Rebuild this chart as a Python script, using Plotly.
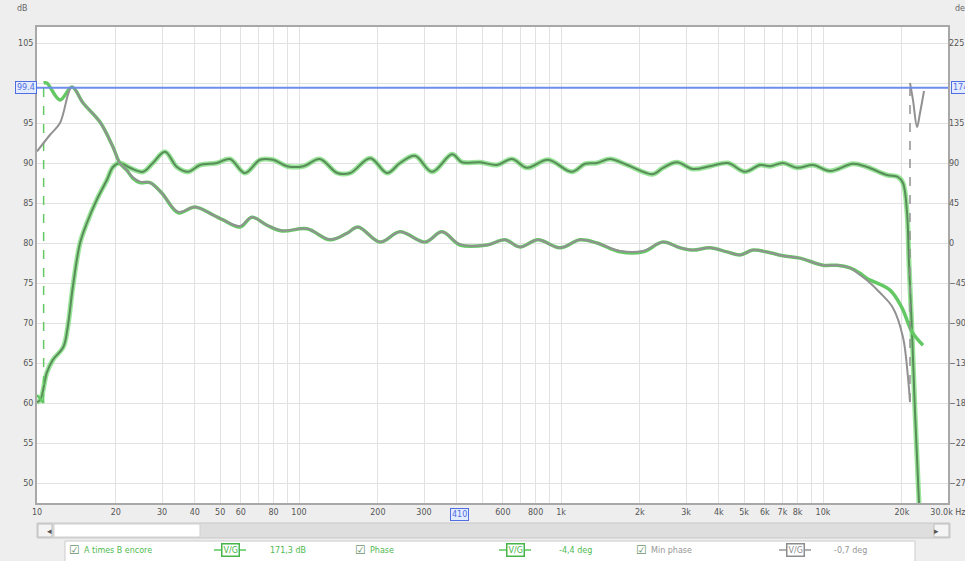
import numpy as np
import plotly.graph_objects as go

# --- Magnitude "A times B encore" (dB, left axis) ---
mag_freq = [10, 10.3, 10.9, 11.5, 12.6, 13.1, 13.7, 14.6, 15.5, 16.9, 18.5, 19.5, 20.7,
            22.6, 25.4, 27.7, 30.8, 34.2, 37.7, 41.9, 48.6, 54.5, 62.2, 71, 79.6, 90,
            104, 120, 140, 157, 187, 217, 243, 277, 322, 384, 419, 491, 570, 650, 742,
            892, 1100, 1235, 1370, 1540, 1790, 2240, 2450, 2770, 3190, 3700, 4340, 5040,
            5750, 6280, 7040, 7960, 9160, 10640, 13020, 14720, 17550, 19330, 20200,
            20930, 21290, 21860, 22440, 23250, 23660]
mag_db = [60.1, 60.4, 63.8, 65.4, 67.0, 69.5, 74.5, 80.0, 82.5, 85.4, 87.9, 89.5, 90.0,
          89.4, 88.9, 90.0, 91.4, 89.5, 88.9, 89.75, 90.0, 90.5, 88.75, 90.4, 90.4, 89.6,
          89.6, 90.5, 88.75, 88.75, 90.6, 88.75, 90.0, 90.9, 88.9, 91.1, 90.1, 90.1, 89.75,
          90.5, 89.4, 90.4, 88.9, 89.9, 90.0, 90.5, 89.75, 88.6, 89.4, 90.1, 89.25, 89.6,
          90.0, 88.9, 89.75, 89.6, 90.0, 89.4, 89.75, 89.0, 89.9, 89.5, 88.5, 88.25, 87.5,
          83.75, 77.5, 69.0, 59.0, 47.5, 40.0]

# --- Phase (deg, right axis) ---
phase_lo_freq = [10, 10.6]
phase_lo_deg = [-171, -180]
phase_freq = [10.6, 10.9, 12.24, 13.6, 15.0, 17.4, 19.5, 20.7, 22.0, 23.2, 24.7, 27.0,
              30.0, 34.6, 40.1, 47.0, 51.3, 59.5, 66.1, 75.5, 86.1, 107.3, 131.3, 152.5,
              168, 203.8, 242.9, 302.7, 351.5, 411.6, 522, 611, 697, 817, 991, 1182, 1372,
              1680, 2056, 2450, 2846, 3190, 3700, 4301, 4823, 5406, 6280, 7040, 8171,
              10000, 11310, 12680, 13840, 14720, 18020, 20020, 21860, 24080]
phase_deg = [180, 180, 161, 175.5, 157.5, 136, 108, 90, 82, 73, 68, 68,
             56, 34, 40.5, 31.5, 26, 18, 29, 20, 13.5, 16, 3.6, 11,
             18, 1, 12.6, 1, 12.6, -2.25, -2.25, 3.6, -4.5, 3.6, -5.4, 3.6, 0,
             -10, -10, 1, -5.4, -8, -5.4, -10, -13.5, -8, -11, -14.4, -17,
             -25, -25, -28, -34, -40, -53, -73, -100, -115]

# --- Min phase (deg, right axis) ---
minph_freq = [10, 11.2, 12.24, 13.6, 15.0, 17.4, 19.5, 20.7, 22.0, 23.2, 24.7, 27.0,
              30.0, 34.6, 40.1, 47.0, 51.3, 59.5, 66.1, 75.5, 86.1, 107.3, 131.3, 152.5,
              168, 203.8, 242.9, 302.7, 351.5, 411.6, 522, 611, 697, 817, 991, 1182, 1372,
              1680, 2056, 2450, 2846, 3190, 3700, 4301, 4823, 5406, 6280, 7040, 8171,
              10000, 11310, 12680, 13840, 14720, 16510, 18500, 20200, 21100, 21480]
minph_deg = [103, 121.5, 135, 175.5, 157.5, 136, 108, 90, 82, 74, 69, 68,
             56, 35, 40.5, 31.5, 26, 19, 29, 20, 14, 16, 4, 11,
             18, 1, 12.6, 1, 12.6, -1.5, -2.25, 3.6, -4.5, 3.6, -5.4, 3.6, 0,
             -9, -9, 1, -5.4, -8, -5.4, -10, -13.5, -8, -11, -14.4, -17,
             -25, -25, -28, -36, -42, -56, -73, -106, -151, -179]
minph_hi_freq = [21480, 22050, 22850, 23450, 24300]
minph_hi_deg = [180, 161, 130.5, 146, 171]

# cursor
cursor_freq = 410
cursor_db = 99.4

x_tickvals = [10, 20, 30, 40, 50, 60, 80, 100, 200, 300, 600, 800, 1000, 2000, 3000,
              4000, 5000, 6000, 7000, 8000, 10000, 20000, 29990]
x_ticktext = ["10", "20", "30", "40", "50", "60", "80", "100", "200", "300", "600", "800",
              "1k", "2k", "3k", "4k", "5k", "6k", "7k", "8k", "10k", "20k", "30.0k Hz"]
x_gridvals = [m * 10 ** k for k in range(1, 5) for m in range(1, 10) if m * 10 ** k <= 30000]
y_tickvals = [50, 55, 60, 65, 70, 75, 80, 85, 90, 95, 105]
y2_tickvals = [-270, -225, -180, -135, -90, -45, 0, 45, 90, 135, 225]

Y_RANGE = [47.5, 107]
Y2_RANGE = [(Y_RANGE[0] - 80) * 9, (Y_RANGE[1] - 80) * 9]

GREEN_HALO = "rgba(120,220,120,0.75)"
GREEN_CORE = "rgb(88,140,88)"
PHASE_GREEN = "rgb(100,200,100)"
GRAY = "rgb(145,145,145)"

fig = go.Figure()

# magnitude
fig.add_trace(go.Scatter(x=mag_freq, y=mag_db, mode="lines", line=dict(color=GREEN_HALO, width=5, shape="spline"), hoverinfo="skip"))
fig.add_trace(go.Scatter(x=mag_freq, y=mag_db, mode="lines", line=dict(color=GREEN_CORE, width=2, shape="spline"), name="A times B encore"))

# phase
fig.add_trace(go.Scatter(x=phase_lo_freq, y=phase_lo_deg, yaxis="y2", mode="lines", line=dict(color=PHASE_GREEN, width=2.5)))
fig.add_trace(go.Scatter(x=[phase_lo_freq[-1], phase_freq[0]], y=[phase_lo_deg[-1], phase_deg[0]], yaxis="y2",
                         mode="lines", line=dict(color=PHASE_GREEN, width=1.5, dash="dash")))
fig.add_trace(go.Scatter(x=phase_freq, y=phase_deg, yaxis="y2", mode="lines", line=dict(color=PHASE_GREEN, width=3.5, shape="spline"), name="Phase"))

# min phase
fig.add_trace(go.Scatter(x=minph_freq, y=minph_deg, yaxis="y2", mode="lines", line=dict(color=GRAY, width=2, shape="spline"), name="Min phase"))
fig.add_trace(go.Scatter(x=[minph_freq[-1], minph_hi_freq[0]], y=[minph_deg[-1], minph_hi_deg[0]], yaxis="y2",
                         mode="lines", line=dict(color=GRAY, width=1.5, dash="dash")))
fig.add_trace(go.Scatter(x=minph_hi_freq, y=minph_hi_deg, yaxis="y2", mode="lines", line=dict(color=GRAY, width=2, shape="spline")))

tick_font = dict(family="DejaVu Sans", size=8, color="#555555")
grid = "#e2e2e2"

fig.update_layout(
    width=965, height=561,
    margin=dict(l=37, r=17, t=27, b=58),
    paper_bgcolor="#eeeeee",
    plot_bgcolor="white",
    showlegend=False,
    xaxis=dict(type="log", range=[1, np.log10(30000)], tickvals=x_tickvals, ticktext=x_ticktext,
               showgrid=True, gridcolor=grid, gridwidth=1, ticks="", tickfont=tick_font,
               ticklabeloverflow="allow",
               minor=dict(tickvals=x_gridvals, showgrid=True, gridcolor=grid, ticks=""),
               showline=True, linecolor="#a8a8a8", linewidth=2, mirror=True,
               zeroline=False, automargin=False, fixedrange=True),
    yaxis=dict(range=Y_RANGE, tickvals=y_tickvals, showgrid=True, gridcolor=grid, ticks="",
               minor=dict(tickvals=[100], showgrid=True, gridcolor=grid, ticks=""),
               tickfont=tick_font, showline=True, linecolor="#a8a8a8", linewidth=2, mirror=True,
               zeroline=False, automargin=False),
    yaxis2=dict(range=Y2_RANGE, tickvals=y2_tickvals, overlaying="y", side="right", showgrid=False,
                ticks="", tickfont=tick_font, zeroline=False, automargin=False),
)

# pixel -> paper helpers for the window decorations
def px(x):
    return (x - 37) / 911

def py(y):
    return (503 - y) / 476

shapes = [
    # cursor lines
    dict(type="line", xref="paper", yref="y", x0=0, x1=1, y0=cursor_db, y1=cursor_db,
         line=dict(color="rgb(110,140,235)", width=2)),
    dict(type="line", xref="x", yref="paper", x0=np.log10(cursor_freq), x1=np.log10(cursor_freq), y0=0, y1=1,
         line=dict(color="rgb(110,140,235)", width=2)),
    # scrollbar
    dict(type="rect", xref="paper", yref="paper", x0=px(37), x1=px(950), y0=py(523), y1=py(538),
         fillcolor="#dedede", line=dict(color="#c8c8c8", width=1), layer="above"),
    dict(type="rect", xref="paper", yref="paper", x0=px(54), x1=px(200), y0=py(524), y1=py(537),
         fillcolor="white", line=dict(color="#cfcfcf", width=1), layer="above"),
    dict(type="rect", xref="paper", yref="paper", x0=px(38), x1=px(52), y0=py(524), y1=py(537),
         fillcolor="#f4f4f4", line=dict(color="#bdbdbd", width=1), layer="above"),
    dict(type="rect", xref="paper", yref="paper", x0=px(934), x1=px(949), y0=py(524), y1=py(537),
         fillcolor="#f4f4f4", line=dict(color="#bdbdbd", width=1), layer="above"),
    # legend box
    dict(type="rect", xref="paper", yref="paper", x0=px(65), x1=px(915), y0=py(541), y1=py(566),
         fillcolor="white", line=dict(color="#cccccc", width=1), layer="above"),
]

for cx, col in [(230, "rgb(90,200,90)"), (515, "rgb(90,200,90)"), (795, "rgb(150,150,150)")]:
    shapes.append(dict(type="line", xref="paper", yref="paper", x0=px(cx - 16), x1=px(cx + 16),
                       y0=py(550), y1=py(550), line=dict(color=col, width=1.5), layer="above"))
fig.update_layout(shapes=shapes)

blue = "rgb(80,110,225)"
ann = [
    dict(text="dB", x=px(15), y=py(9), xref="paper", yref="paper", showarrow=False,
         font=dict(family="DejaVu Sans", size=8, color="#666")),
    dict(text="deg", x=px(953), y=py(9), xref="paper", yref="paper", showarrow=False, xanchor="left",
         font=dict(family="DejaVu Sans", size=8, color="#666")),
    dict(text="99.4", x=0, y=cursor_db, xref="paper", yref="y", xanchor="right", showarrow=False,
         font=dict(family="DejaVu Sans", size=8, color=blue), bgcolor="#e3ebff", bordercolor=blue,
         borderwidth=1, borderpad=1),
    dict(text="174.6", x=1.003, y=cursor_db, xref="paper", yref="y", xanchor="left", showarrow=False,
         font=dict(family="DejaVu Sans", size=8, color=blue), bgcolor="#e3ebff", bordercolor=blue,
         borderwidth=1, borderpad=1),
    dict(text="410", x=np.log10(cursor_freq), y=py(514), xref="x", yref="paper", showarrow=False,
         font=dict(family="DejaVu Sans", size=8, color=blue), bgcolor="#e3ebff", bordercolor=blue,
         borderwidth=1, borderpad=1),
    dict(text="◂", x=px(45), y=py(530), xref="paper", yref="paper", showarrow=False,
         font=dict(size=9, color="#555")),
    dict(text="▸", x=px(941), y=py(530), xref="paper", yref="paper", showarrow=False,
         font=dict(size=9, color="#555")),
]

legend_items = [
    (74, "☑", "rgb(110,150,110)", "center"),
    (82, "A times B encore", "rgb(80,185,80)", "left"),
    (288, "171,3 dB", "rgb(80,185,80)", "center"),
    (360, "☑", "rgb(110,150,110)", "center"),
    (368, "Phase", "rgb(80,185,80)", "left"),
    (575, "-4,4 deg", "rgb(80,185,80)", "center"),
    (641, "☑", "rgb(110,150,110)", "center"),
    (649, "Min phase", "rgb(150,150,150)", "left"),
    (850, "-0,7 deg", "rgb(150,150,150)", "center"),
]
for lx, txt, col, anchor in legend_items:
    size = 12 if txt == "☑" else 8
    ann.append(dict(text=txt, x=px(lx), y=py(550), xref="paper", yref="paper", showarrow=False,
                    xanchor=anchor, font=dict(family="DejaVu Sans", size=size, color=col)))

for cx, col in [(230, "rgb(70,180,70)"), (515, "rgb(70,180,70)"), (795, "rgb(140,140,140)")]:
    ann.append(dict(text="V/G", x=px(cx), y=py(550), xref="paper", yref="paper", showarrow=False,
                    xanchor="center", font=dict(family="DejaVu Sans", size=8, color=col), bgcolor="white",
                    bordercolor=col, borderwidth=1.5, borderpad=1))

for a in ann:
    a["yanchor"] = "middle"

fig.update_layout(annotations=ann)

# drop the page's default body margin so the figure fills the window exactly
fig.write_html("out.html", config={"displayModeBar": False},
               post_script="document.body.style.margin='0px';")
